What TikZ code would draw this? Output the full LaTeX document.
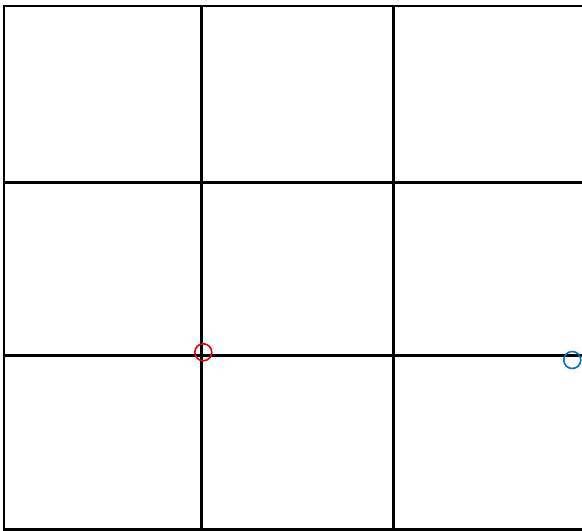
\documentclass[tikz,border=0pt]{standalone}
\definecolor{mred}{RGB}{230,0,0}
\definecolor{mblue}{RGB}{0,114,189}
\begin{document}
\begin{tikzpicture}[x=1pt,y=-1pt,
  gridline/.style={line width=2.4pt,black},
  marker/.style={circle,draw,line width=1.6pt,minimum size=17pt,inner sep=0pt}]
\useasboundingbox (0,0) rectangle (582,531);
% horizontal lines
\draw[gridline] (2.8,6) -- (582,6);
\draw[gridline] (4,182.5) -- (582,182.5);
\draw[gridline] (4,355.5) -- (582,355.5);
\draw[gridline] (2.8,529.5) -- (582,529.5);
% vertical lines
\draw[gridline] (4,6) -- (4,529.5);
\draw[gridline] (201.5,6) -- (201.5,529.5);
\draw[gridline] (393.3,6) -- (393.3,529.5);
% markers
\node[marker,draw=mred] (r) at (203.3,352.3) {};
\node[marker,draw=mblue] (b) at (572.3,360) {};
\end{tikzpicture}
\end{document}
